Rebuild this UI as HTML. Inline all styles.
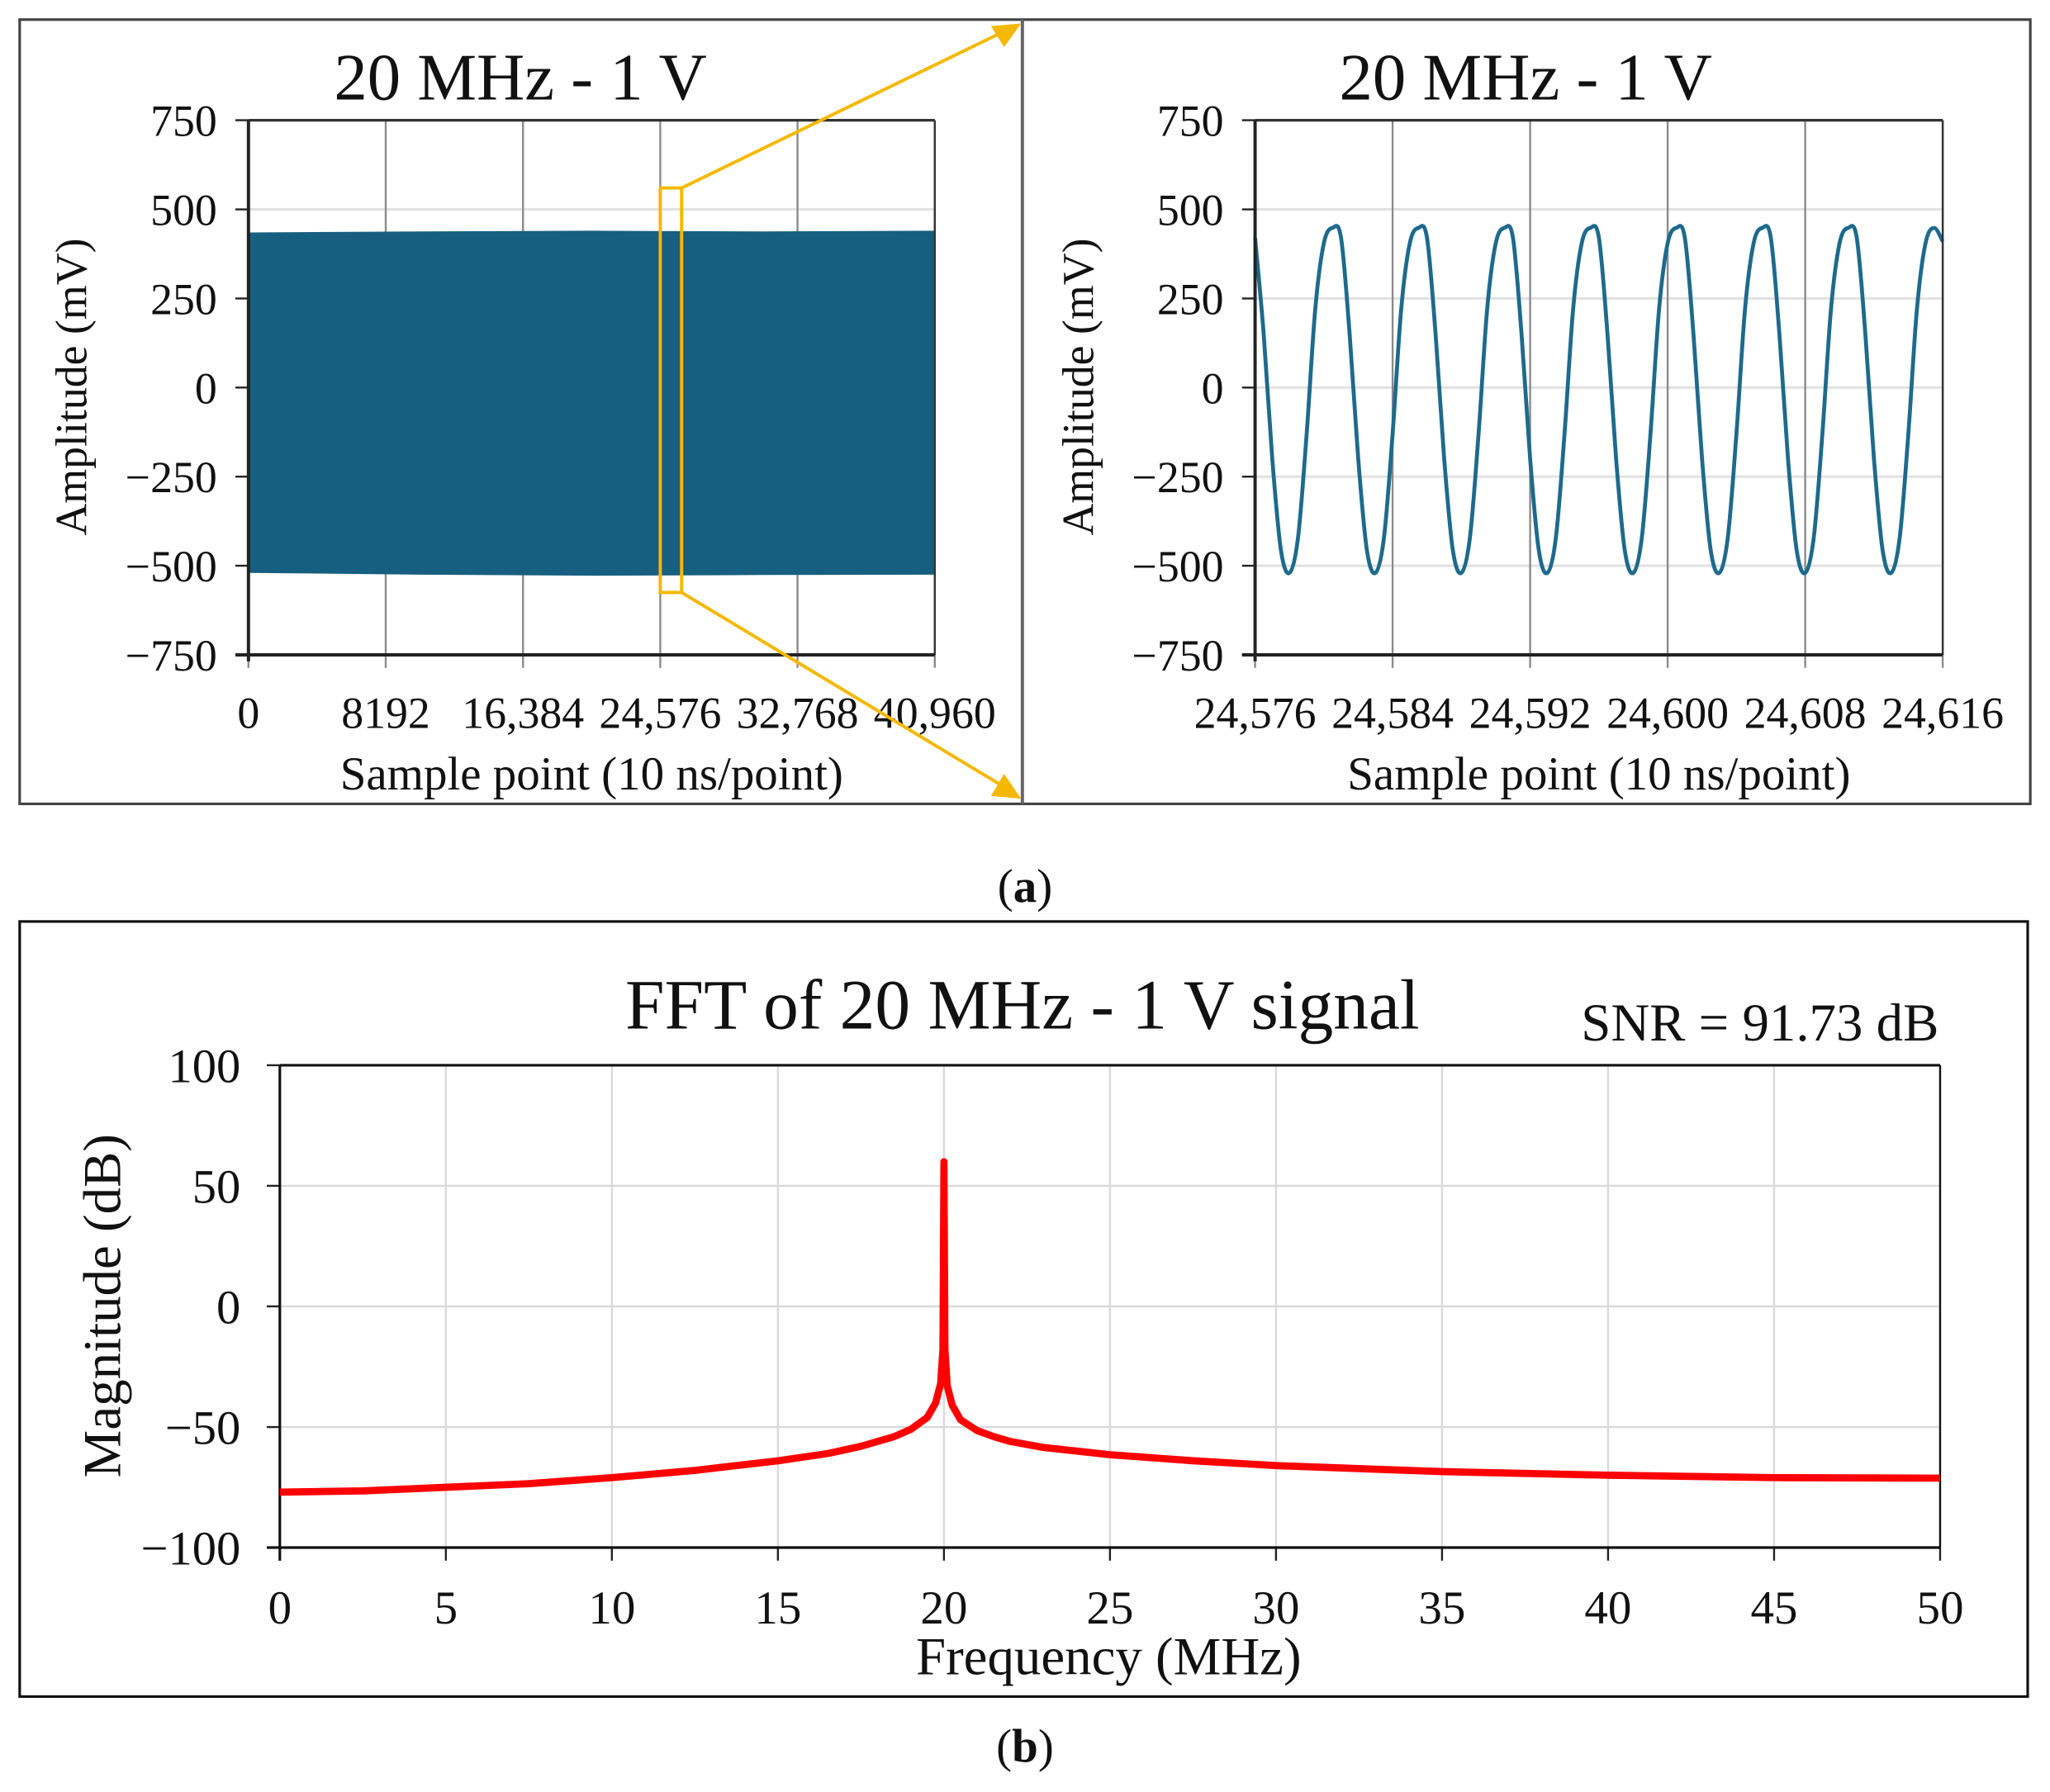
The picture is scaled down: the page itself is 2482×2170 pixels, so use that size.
<!DOCTYPE html>
<html><head><meta charset="utf-8"><style>
html,body{margin:0;padding:0;background:#fff}
svg{display:block}
text{font-family:"Liberation Serif",serif;fill:#111}
</style></head><body>
<svg id="fig" width="2482" height="2170" viewBox="0 0 1568 1371" xmlns="http://www.w3.org/2000/svg">
<rect x="0" y="0" width="1568" height="1371" fill="#fff"/>
<g id="panelA">
<rect x="15" y="15" width="1538" height="600" fill="none" stroke="#444" stroke-width="2"/>
<line x1="782" y1="15" x2="782" y2="615" stroke="#666" stroke-width="2.5"/>
<g id="left"></g>
<g id="right"></g>
</g>
<text x="784" y="690" text-anchor="middle" font-size="36">(<tspan font-weight="bold">a</tspan>)</text>
<g id="panelB">
<rect x="15" y="705" width="1536" height="593" fill="none" stroke="#111" stroke-width="2"/>
<g id="fft"></g>
</g>
<text x="784" y="1348" text-anchor="middle" font-size="36">(<tspan font-weight="bold">b</tspan>)</text>
</svg>
<script>
// ---- data ----
const ampTicks = [750, 500, 250, 0, -250, -500, -750];
const ampTickLabels = ["750", "500", "250", "0", "\u2212250", "\u2212500", "\u2212750"];
const fullTicks = [0, 8192, 16384, 24576, 32768, 40960];
const fullTickLabels = ["0", "8192", "16,384", "24,576", "32,768", "40,960"];
const envTop = [435, 438, 440, 438, 440];
const envBottom = [-520, -525, -528, -526, -525];
const envPos = [0, 10240, 20480, 30720, 40960];
const zoomTicks = [24576, 24584, 24592, 24600, 24608, 24616];
const zoomTickLabels = ["24,576", "24,584", "24,592", "24,600", "24,608", "24,616"];
const zoomStart = 24576;
const zoomStep = 0.5;
const zoomValues = [
 420,150,-200,-455,-520,-420,-130,220,405,448,
 420,150,-200,-455,-520,-420,-130,220,405,448,
 420,150,-200,-455,-520,-420,-130,220,405,448,
 420,150,-200,-455,-520,-420,-130,220,405,448,
 420,150,-200,-455,-520,-420,-130,220,405,448,
 420,150,-200,-455,-520,-420,-130,220,405,448,
 420,150,-200,-455,-520,-420,-130,220,405,448,
 420,150,-200,-455,-520,-420,-130,220,405,448,
 410];
const fftTicksY = [100, 50, 0, -50, -100];
const fftTickLabelsY = ["100", "50", "0", "\u221250", "\u2212100"];
const fftTicksX = [0,5,10,15,20,25,30,35,40,45,50];
const fftFreq = [0,2.5,5,7.5,10,12.5,15,16.5,17.5,18.5,19,19.5,19.75,19.9,19.97,20,20.03,20.1,20.25,20.5,21,21.5,22,23,25,27.5,30,35,40,45,50];
const fftMag  = [-77,-76.5,-75,-73.5,-71,-68,-64,-61,-58,-54,-51,-46,-40,-32,-18,60,-18,-33,-41,-47,-51.5,-54,-56,-58.5,-61.5,-64,-66,-68.5,-70,-71,-71.2];

const NS = "http://www.w3.org/2000/svg";
function mk(parent, tag, attrs, txt){const e=document.createElementNS(NS,tag);for(const k in attrs)e.setAttribute(k,attrs[k]);if(txt!==undefined)e.textContent=txt;parent.appendChild(e);return e;}
function lin(d0,d1,r0,r1){return v=>r0+(v-d0)*(r1-r0)/(d1-d0);}
function smooth(pts){let d=`M${pts[0][0]},${pts[0][1]}`;for(let i=0;i<pts.length-1;i++){const p0=pts[Math.max(0,i-1)],p1=pts[i],p2=pts[i+1],p3=pts[Math.min(pts.length-1,i+2)];const c1x=p1[0]+(p2[0]-p0[0])/6,c1y=p1[1]+(p2[1]-p0[1])/6,c2x=p2[0]-(p3[0]-p1[0])/6,c2y=p2[1]-(p3[1]-p1[1])/6;d+=` C${c1x},${c1y} ${c2x},${c2y} ${p2[0]},${p2[1]}`;}return d;}

function ampAxes(g, x0, x1, xticks, xlabels, yScale, xScale, name){
  const y0=92,y1=501;
  ampTicks.forEach((t,i)=>{
    const y=yScale(t);
    const gl=mk(g,"line",{x1:x0,x2:x1,y1:y,y2:y,stroke:"#e2e2e2","stroke-width":2});
    
    
    mk(g,"line",{x1:x0-10,x2:x0,y1:y,y2:y,stroke:"#222","stroke-width":1.5});
    const tl=mk(g,"text",{x:x0-24,y:y+12,"text-anchor":"end","font-size":34},ampTickLabels[i]);
    
    
  });
  xticks.forEach((t,i)=>{
    const x=xScale(t);
    const vg=mk(g,"line",{x1:x,x2:x,y1:y0,y2:y1+10,stroke:"#8a8a8a","stroke-width":1.5});
    
    
    const tl=mk(g,"text",{x:x,y:557,"text-anchor":"middle","font-size":34},xlabels[i]);
    
    
  });
}
function ampFrame(g,x0,x1,name,cx){
  mk(g,"line",{x1:x0,x2:x1,y1:92,y2:92,stroke:"#333","stroke-width":2});
  mk(g,"line",{x1:x1,x2:x1,y1:92,y2:501,stroke:"#333","stroke-width":1.5});
  const ya=mk(g,"line",{x1:x0,x2:x0,y1:92,y2:506,stroke:"#222","stroke-width":2.5});
  
  
  const xa=mk(g,"line",{x1:x0-10,x2:x1,y1:501,y2:501,stroke:"#222","stroke-width":2.5});
  
  
  const t=mk(g,"text",{x:cx,y:76,"text-anchor":"middle","font-size":51},"20 MHz - 1 V");
  
  
  const yt=mk(g,"text",{x:0,y:0,"text-anchor":"middle","font-size":34,transform:`translate(${x0-124},296) rotate(-90)`},"Amplitude  (mV)");
  
  
  const xt=mk(g,"text",{x:(x0+x1)/2,y:604,"text-anchor":"middle","font-size":36},"Sample point (10 ns/point)");
  
  
}

// Left chart
(function(){
  const g=document.getElementById("left");
  const x0=190,x1=715;
  const xs=lin(0,40960,x0,x1), ys=lin(-750,750,501,92);
  ampAxes(g,x0,x1,fullTicks,fullTickLabels,ys,xs,"left-chart");
  let d="M"+envPos.map((p,i)=>`${xs(p)},${ys(envTop[i])}`).join(" L");
  d+=" L"+envPos.slice().reverse().map((p,j)=>{const i=envPos.length-1-j;return `${xs(p)},${ys(envBottom[i])}`;}).join(" L")+" Z";
  const band=mk(g,"path",{d:d,fill:"#175f80"});
  
  
  ampFrame(g,x0,x1,"left-chart",398);
  const zb=mk(g,"rect",{x:xs(24576),y:ys(560),width:xs(25850)-xs(24576),height:ys(-575)-ys(560),fill:"none",stroke:"#f5b800","stroke-width":2.5});
  
  
  const zx=xs(25850);
  const a1=mk(g,"line",{x1:zx,y1:ys(560),x2:768,y2:24,stroke:"#f5b800","stroke-width":2.5});
  
  
  mk(g,"polygon",{points:"781,18 758,20 768,36",fill:"#f5b800"});
  const a2=mk(g,"line",{x1:zx,y1:ys(-575),x2:768,y2:602,stroke:"#f5b800","stroke-width":2.5});
  
  
  mk(g,"polygon",{points:"781,611 758,609 768,592",fill:"#f5b800"});
})();

// Right chart
(function(){
  const g=document.getElementById("right");
  const x0=960,x1=1486;
  const xs=lin(24576,24616,x0,x1), ys=lin(-750,750,501,92);
  ampAxes(g,x0,x1,zoomTicks,zoomTickLabels,ys,xs,"right-chart");
  const pts=zoomValues.map((v,i)=>[xs(zoomStart+i*zoomStep),ys(v)]);
  const p=mk(g,"path",{d:smooth(pts),fill:"none",stroke:"#1d6a8c","stroke-width":3});
  
  
  ampFrame(g,x0,x1,"right-chart",1167);
})();

// FFT chart
(function(){
  const g=document.getElementById("fft");
  const x0=214,x1=1484,y0=815,y1=1184;
  const xs=lin(0,50,x0,x1), ys=lin(-100,100,y1,y0);
  fftTicksY.forEach((t,i)=>{
    const y=ys(t);
    const gl=mk(g,"line",{x1:x0,x2:x1,y1:y,y2:y,stroke:"#d9d9d9","stroke-width":1.5});
    
    
    mk(g,"line",{x1:x0-10,x2:x0,y1:y,y2:y,stroke:"#222","stroke-width":1.5});
    const tl=mk(g,"text",{x:x0-30,y:y+13,"text-anchor":"end","font-size":37},fftTickLabelsY[i]);
    
    
  });
  fftTicksX.forEach(t=>{
    const x=xs(t);
    const vg=mk(g,"line",{x1:x,x2:x,y1:y0,y2:y1,stroke:"#d9d9d9","stroke-width":1.5});
    
    
    mk(g,"line",{x1:x,x2:x,y1:y1,y2:y1+10,stroke:"#222","stroke-width":1.5});
    const tl=mk(g,"text",{x:x,y:1242,"text-anchor":"middle","font-size":36},String(t));
    
    
  });
  mk(g,"line",{x1:x0,x2:x1,y1:y0,y2:y0,stroke:"#111","stroke-width":2});
  mk(g,"line",{x1:x1,x2:x1,y1:y0,y2:y1,stroke:"#111","stroke-width":1.5});
  const ya=mk(g,"line",{x1:x0,x2:x0,y1:y0,y2:y1+10,stroke:"#111","stroke-width":2});
  
  
  const xa=mk(g,"line",{x1:x0-10,x2:x1,y1:y1,y2:y1,stroke:"#111","stroke-width":2});
  
  
  const pts=fftFreq.map((f,i)=>[xs(f),ys(fftMag[i])]);
  const d="M"+pts.map(p=>p.join(",")).join(" L");
  const line=mk(g,"path",{d:d,fill:"none",stroke:"#ff0000","stroke-width":5.5,"stroke-linejoin":"round"});
  
  
  const t=mk(g,"text",{x:782,y:787,"text-anchor":"middle","font-size":54},"FFT of 20 MHz - 1 V signal");
  
  
  const s=mk(g,"text",{x:1483,y:796,"text-anchor":"end","font-size":41},"SNR = 91.73 dB");
  
  
  const yt=mk(g,"text",{x:0,y:0,"text-anchor":"middle","font-size":41,transform:"translate(92,999) rotate(-90)"},"Magnitude (dB)");
  
  
  const xt=mk(g,"text",{x:848,y:1281,"text-anchor":"middle","font-size":41},"Frequency (MHz)");
  
  
})();
</script>
</body></html>
